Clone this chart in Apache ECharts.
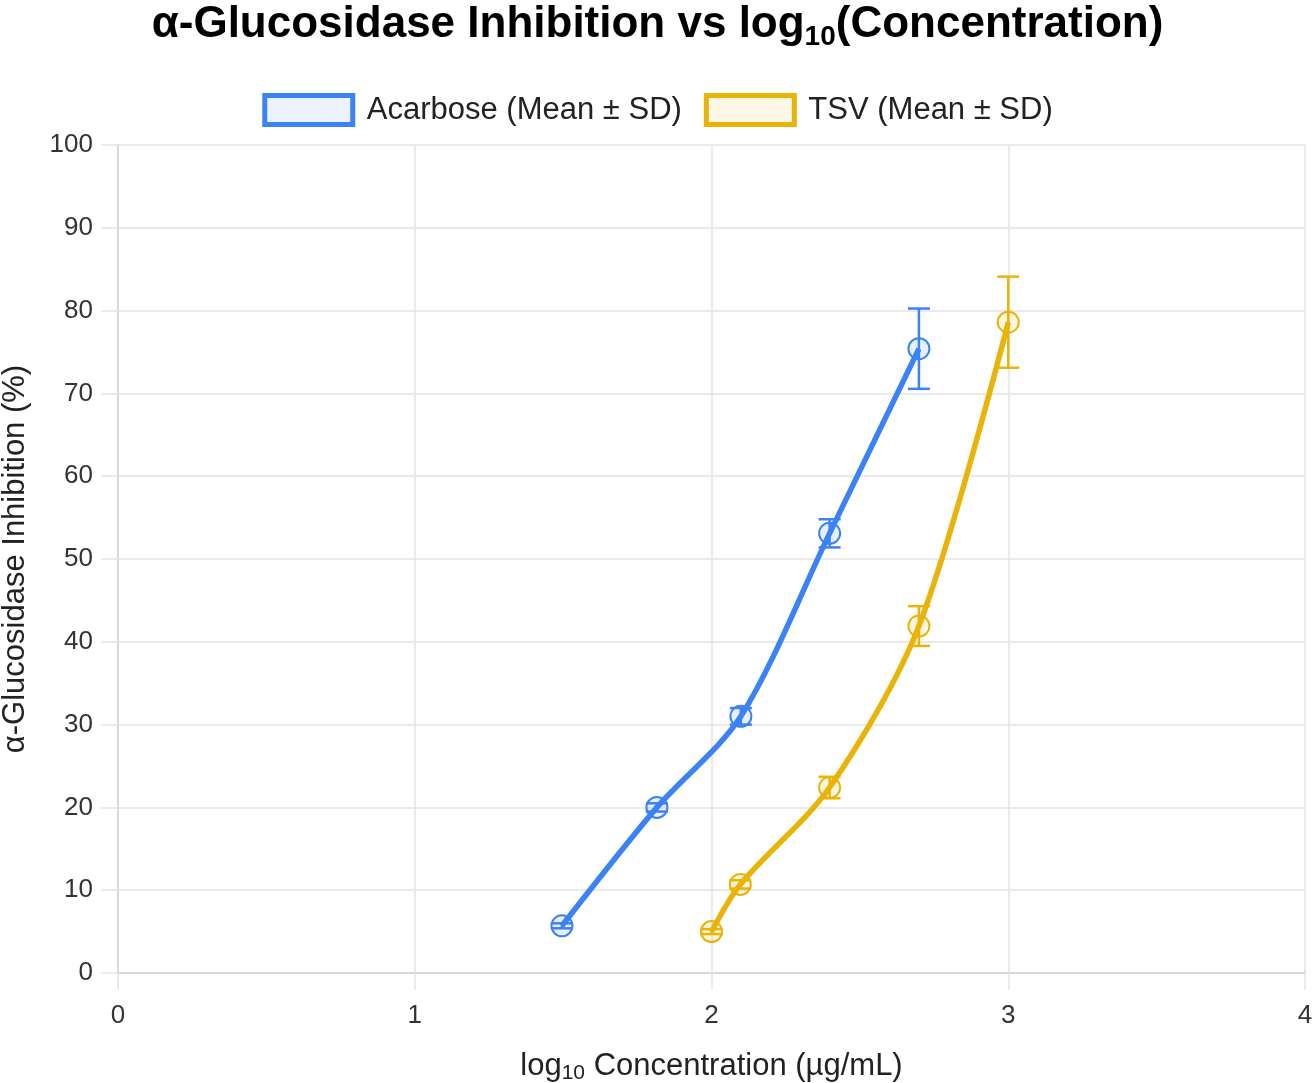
<!DOCTYPE html>
<html>
<head>
<meta charset="utf-8">
<script src="https://cdn.jsdelivr.net/npm/echarts@6/dist/echarts.min.js"></script>
<style>
html,body{margin:0;padding:0;background:#fff;}
#chart{width:1315px;height:1083px;}
</style>
</head>
<body>
<div id="chart"></div>
<script>
// ---- Data ----
const seriesNames = ['Acarbose (Mean ± SD)', 'TSV (Mean ± SD)'];
const acarboseLogConc = [1.496, 1.816, 2.099, 2.398, 2.699];
const acarboseMean    = [5.7, 20.0, 31.0, 53.1, 75.4];
const acarboseSD      = [0.3, 0.5, 1.0, 1.7, 4.85];
const tsvLogConc      = [2.0, 2.097, 2.398, 2.699, 3.0];
const tsvMean         = [5.0, 10.7, 22.4, 41.9, 78.6];
const tsvSD           = [0.3, 0.5, 1.3, 2.4, 5.5];
const xTicks = [0, 1, 2, 3, 4];
const yTicks = [0, 10, 20, 30, 40, 50, 60, 70, 80, 90, 100];

const BLUE = '#3b82f6', BLUE_FILL = 'rgba(59,130,246,0.12)';
const GOLD = '#eab308', GOLD_FILL = 'rgba(234,179,8,0.12)';
const FONT = 'Liberation Sans, Arial, Helvetica, sans-serif';

function pts(xs, ys){ return xs.map((x,i)=>[x, ys[i]]); }
function errs(xs, ys, sd){ return xs.map((x,i)=>[x, ys[i]-sd[i], ys[i]+sd[i]]); }

function errRender(color){
  return function(params, api){
    const x = api.value(0), lo = api.value(1), hi = api.value(2);
    const pHi = api.coord([x, hi]), pLo = api.coord([x, lo]);
    const w = 11;
    const st = {stroke: color, lineWidth: 2.5};
    return {type:'group', children:[
      {type:'line', shape:{x1:pHi[0], y1:pHi[1], x2:pLo[0], y2:pLo[1]}, style:st},
      {type:'line', shape:{x1:pHi[0]-w, y1:pHi[1], x2:pHi[0]+w, y2:pHi[1]}, style:st},
      {type:'line', shape:{x1:pLo[0]-w, y1:pLo[1], x2:pLo[0]+w, y2:pLo[1]}, style:st}
    ]};
  };
}

const chart = echarts.init(document.getElementById('chart'));
chart.setOption({
  backgroundColor:'#fff',
  animation:false,
  textStyle:{fontFamily:FONT},
  title:{
    left:'center', top:-6,
    text:'{t|α-Glucosidase Inhibition vs log}{s|10}{t|(Concentration)}',
    textStyle:{
      rich:{
        t:{fontFamily:FONT, fontSize:44, fontWeight:'bold', color:'#000'},
        s:{fontFamily:FONT, fontSize:28, fontWeight:'bold', color:'#000', padding:[24,0,0,0]}
      }
    }
  },
  legend:{
    top:88, left:'center', itemGap:22, itemWidth:88, itemHeight:29,
    icon:'rect',
    textStyle:{fontFamily:FONT, fontSize:31, color:'#222', padding:[0,0,0,9]},
    data:[
      {name:seriesNames[0], itemStyle:{color:'rgba(59,130,246,0.1)', borderColor:BLUE, borderWidth:5}},
      {name:seriesNames[1], itemStyle:{color:'rgba(234,179,8,0.1)', borderColor:GOLD, borderWidth:5}}
    ]
  },
  grid:{left:118, right:10, top:145, bottom:110, containLabel:false, outerBoundsMode:'none'},
  xAxis:{
    type:'value', min:xTicks[0], max:xTicks[xTicks.length-1], interval:1,
    name:'{t|log}{s|10}{t| Concentration (µg/mL)}',
    nameLocation:'middle', nameGap:76,
    nameTextStyle:{rich:{
      t:{fontFamily:FONT, fontSize:31, color:'#222'},
      s:{fontFamily:FONT, fontSize:21, color:'#222', padding:[14,0,0,0]}
    }},
    axisLine:{show:true, lineStyle:{color:'#d9d9d9', width:2}},
    axisTick:{show:true, length:17, lineStyle:{color:'#e3e3e3', width:1.5}},
    splitLine:{show:true, lineStyle:{color:'#e3e3e3', width:1.5}},
    axisLabel:{fontFamily:FONT, fontSize:26, color:'#333', margin:30}
  },
  yAxis:{
    type:'value', min:yTicks[0], max:yTicks[yTicks.length-1], interval:10,
    name:'α-Glucosidase Inhibition (%)',
    nameLocation:'middle', nameGap:87, nameRotate:90,
    nameTextStyle:{fontFamily:FONT, fontSize:31, color:'#222'},
    axisLine:{show:true, lineStyle:{color:'#d9d9d9', width:2}},
    axisTick:{show:true, length:17, lineStyle:{color:'#e3e3e3', width:1.5}},
    splitLine:{show:true, lineStyle:{color:'#e3e3e3', width:1.5}},
    axisLabel:{fontFamily:FONT, fontSize:26, color:'#333', margin:25}
  },
  series:[
    {
      name:seriesNames[0], type:'line', smooth:0.3,
      data:pts(acarboseLogConc, acarboseMean),
      symbol:'circle', symbolSize:21,
      lineStyle:{color:BLUE, width:5.5},
      itemStyle:{color:BLUE_FILL, borderColor:BLUE, borderWidth:2},
      z:3
    },
    {
      name:seriesNames[0]+' err', type:'custom',
      renderItem:errRender(BLUE),
      encode:{x:0, y:[1,2]},
      data:errs(acarboseLogConc, acarboseMean, acarboseSD),
      z:4, silent:true
    },
    {
      name:seriesNames[1], type:'line', smooth:0.3,
      data:pts(tsvLogConc, tsvMean),
      symbol:'circle', symbolSize:21,
      lineStyle:{color:GOLD, width:5.5},
      itemStyle:{color:GOLD_FILL, borderColor:GOLD, borderWidth:2},
      z:3
    },
    {
      name:seriesNames[1]+' err', type:'custom',
      renderItem:errRender(GOLD),
      encode:{x:0, y:[1,2]},
      data:errs(tsvLogConc, tsvMean, tsvSD),
      z:4, silent:true
    }
  ]
});
</script>
</body>
</html>
